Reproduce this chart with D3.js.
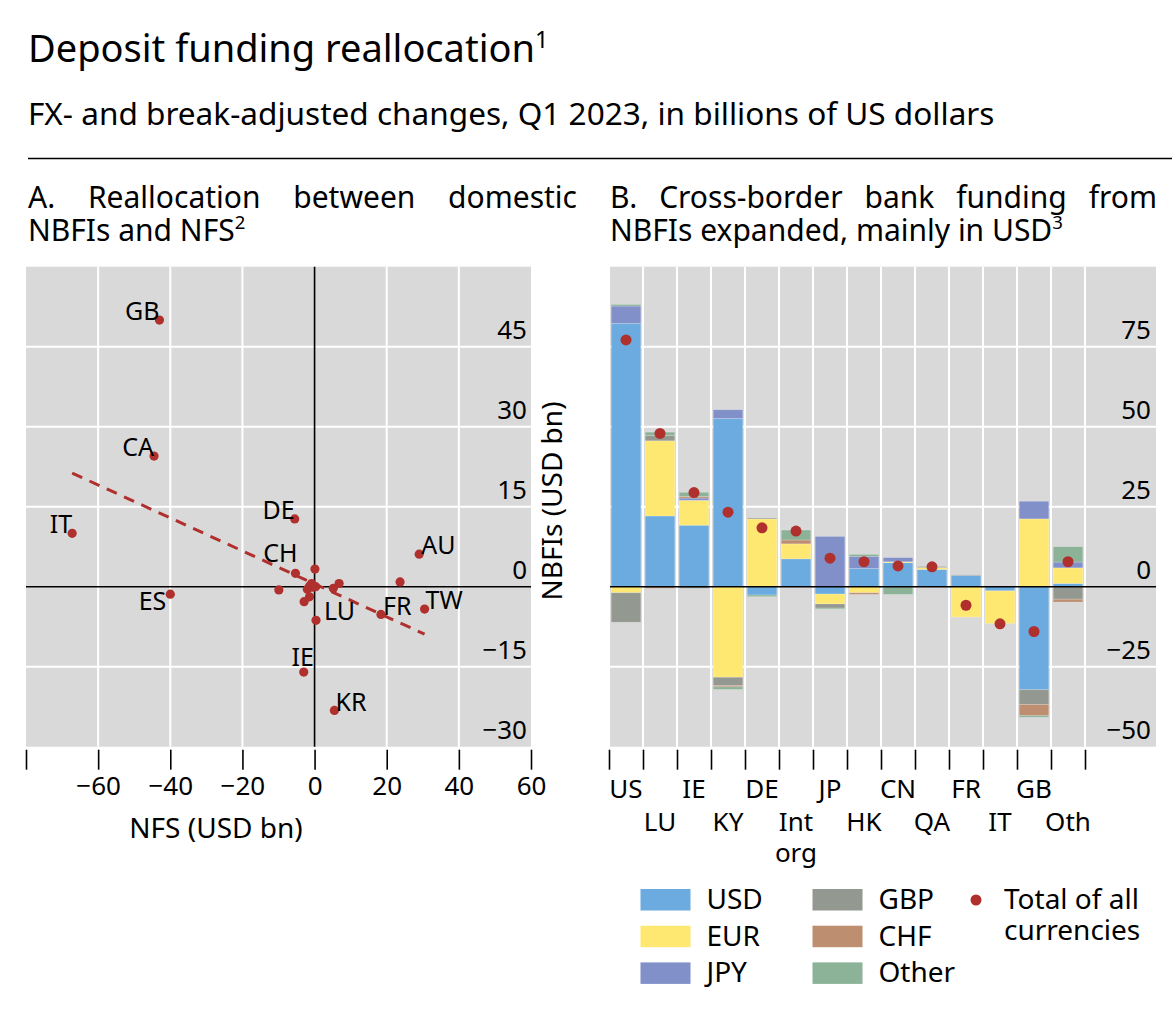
<!DOCTYPE html>
<html><head><meta charset="utf-8">
<script src="https://cdn.jsdelivr.net/npm/d3@7"></script>
<style>
body{margin:0;background:#fff;}
text{font-family:"Noto Sans", sans-serif; fill:#000;}
</style></head><body>
<svg id="chart" width="1174" height="1014"></svg>
<script>
// ---------- DATA ----------
// Panel A: scatter (NFS on x, NBFIs on y), USD bn
const scatterLabels = ["GB","CA","IT","DE","CH","ES","AU","FR","TW","LU","IE","KR"];
const scatterNFS    = [-43.0,-44.5,-67.2,-5.5,-5.3,-40.0,29.0,18.4,30.5,0.4,-3.0,5.5];
const scatterNBFI   = [50.0,24.5,10.0,12.7,2.5,-1.4,6.1,-5.2,-4.2,-6.3,-16.0,-23.2];
const unlabeledNFS  = [-9.9,0.1,-1.4,-0.5,0.3,-2.0,5.2,6.8,-1.4,-2.9,23.7,-0.8];
const unlabeledNBFI = [-0.6,3.3,0.1,-0.1,0.0,-0.5,-0.3,0.6,-1.9,-2.8,0.9,0.6];
const trendNFS  = [-67.2, 30.5];
const trendNBFI = [21.3, -8.9];
const xTicksA = [-80,-60,-40,-20,0,20,40,60];
const yTicksA = [-30,-15,0,15,30,45];

// Panel B: stacked bars by currency, USD bn
const barCategories = ["US","LU","IE","KY","DE","Int org","JP","HK","CN","QA","FR","IT","GB","Oth"];
const currencies = ["USD","EUR","JPY","GBP","CHF","Other"];
const usdValues   = [82.3,22.1,19.2,52.6,-2.6,8.7,-2.3,5.7,7.5,5.4,3.5,-1.3,-32.2,1.0];
const eurValues   = [-1.9,23.5,7.8,-28.3,21.2,4.7,-3.1,-1.9,0.3,0.6,-9.5,-10.2,21.2,4.9];
const jpyValues   = [5.4,0,0.7,2.7,0,0,15.7,3.8,1.3,0,0,0,5.5,1.8];
const gbpValues   = [-9.2,1.7,-0.5,-2.6,0.3,0,-1.3,0,0,0.3,0.2,0,-4.6,-3.9];
const chfValues   = [0,-0.5,0.5,-0.4,0,1.2,0,-0.5,0,0,0,0,-3.5,-0.9];
const otherValues = [0.5,1.0,1.3,-0.8,-0.5,3.1,-0.3,0.6,-2.4,0,0,0,-0.5,4.8];
const totalValues = [77.1,47.9,29.4,23.3,18.4,17.4,8.9,7.8,6.5,6.2,-5.8,-11.6,-14.0,7.8];
const yTicksB = [-50,-25,0,25,50,75];

// ---------- STYLE ----------
const colors = {USD:"#6cabe0",EUR:"#ffe872",JPY:"#8190c8",GBP:"#939891",CHF:"#bd8f70",Other:"#8cb297"};
const dotColor = "#b0302e";
const bg = "#d9d9d9";
const FS = 26;      // tick labels
const FL = 25;      // point labels
const FT = 28;      // axis titles / legend
const PT = 30;      // panel titles

const svg = d3.select("#chart");

function addText(x, y, str, fs, anchor){
  return svg.append("text").attr("x",x).attr("y",y).attr("font-size",fs)
    .attr("text-anchor",anchor||"start").text(str);
}
function fitTo(sel, w){
  const cur = sel.node().getComputedTextLength();
  const fs = parseFloat(sel.attr("font-size"));
  sel.attr("font-size", fs*w/cur);
  return fs*w/cur;
}
// ---------- TITLES ----------
const t1 = addText(28, 62, "Deposit funding reallocation", 36);
const tfs = fitTo(t1, 507);
t1.append("tspan").attr("dy",-14).attr("font-size",tfs*0.62).text("1");

const t2 = addText(28, 125, "FX- and break-adjusted changes, Q1 2023, in billions of US dollars", 26);
fitTo(t2, 967);

svg.append("line").attr("x1",28).attr("x2",1172).attr("y1",158.5).attr("y2",158.5)
  .attr("stroke","#000").attr("stroke-width",1.5);

function justified(words, x0, x1, y, fs){
  const g = svg.append("g");
  const nodes = words.map(w => g.append("text").attr("y",y).attr("font-size",fs).text(w));
  const widths = nodes.map(n => n.node().getComputedTextLength());
  const gap = (x1 - x0 - d3.sum(widths))/(words.length-1);
  let x = x0;
  nodes.forEach((n,i)=>{ n.attr("x",x); x += widths[i] + gap; });
}
justified(["A.","Reallocation","between","domestic"], 28, 577, 208, PT);
const pa2 = addText(28, 241, "NBFIs and NFS", PT);
pa2.append("tspan").attr("dy",-12).attr("font-size",PT*0.62).text("2");
justified(["B.","Cross-border","bank","funding","from"], 610, 1157, 208, PT);
const pb2 = addText(610, 241, "NBFIs expanded, mainly in USD", PT);
pb2.append("tspan").attr("dy",-12).attr("font-size",PT*0.62).text("3");

// ---------- PANEL A ----------
const plotTop = 266.7, plotBottom = 746.7;
const xA = d3.scaleLinear().domain([-80,60]).range([26,531]);
const yA = d3.scaleLinear().domain([-30,60]).range([plotBottom, plotTop]);
const gA = svg.append("g");
gA.append("rect").attr("x",xA(-80)).attr("y",plotTop).attr("width",xA(60)-xA(-80)).attr("height",plotBottom-plotTop).attr("fill",bg);
gA.selectAll(".vg").data(xTicksA.filter(d=>d!==0 && d>-80 && d<60)).join("line")
  .attr("x1",d=>xA(d)).attr("x2",d=>xA(d)).attr("y1",plotTop).attr("y2",plotBottom)
  .attr("stroke","#fff").attr("stroke-width",2);
gA.selectAll(".hg").data(yTicksA.filter(d=>d!==0 && d>-30)).join("line")
  .attr("x1",xA(-80)).attr("x2",xA(60)).attr("y1",d=>yA(d)).attr("y2",d=>yA(d))
  .attr("stroke","#fff").attr("stroke-width",2);
gA.append("line").attr("x1",xA(-80)).attr("x2",xA(60)).attr("y1",yA(0)).attr("y2",yA(0)).attr("stroke","#000").attr("stroke-width",1.6);
gA.append("line").attr("x1",xA(0)).attr("x2",xA(0)).attr("y1",plotTop).attr("y2",plotBottom).attr("stroke","#000").attr("stroke-width",1.6);
const axA = d3.axisBottom(xA).tickValues(xTicksA).tickSize(20).tickPadding(7)
  .tickFormat(d => d===-80 ? "" : String(d).replace("-","\u2212"));
const gax = gA.append("g").attr("transform",`translate(0,${plotBottom+3})`).call(axA);
gax.select(".domain").remove();
gax.selectAll(".tick line").attr("stroke","#000").attr("stroke-width",1.6);
gax.selectAll(".tick text").attr("font-size",FS).attr("font-family","Noto Sans").attr("fill","#000");
gA.selectAll(".yl").data(yTicksA).join("text")
  .attr("x",527).attr("y",d=>yA(d)-8).attr("text-anchor","end").attr("font-size",FS)
  .text(d => String(d).replace("-","\u2212"));
addText(216, 838, "NFS (USD bn)", FT, "middle");
svg.append("text").attr("transform","translate(562,501) rotate(-90)").attr("text-anchor","middle")
  .attr("font-size",FT).text("NBFIs (USD bn)");
gA.append("line").attr("x1",xA(trendNFS[0])).attr("y1",yA(trendNBFI[0]))
  .attr("x2",xA(trendNFS[1])).attr("y2",yA(trendNBFI[1]))
  .attr("stroke",dotColor).attr("stroke-width",3).attr("stroke-dasharray","11,8");
const unl = unlabeledNFS.map((x,i)=>({x, y:unlabeledNBFI[i]}));
gA.selectAll(".ud").data(unl).join("circle").attr("cx",d=>xA(d.x)).attr("cy",d=>yA(d.y)).attr("r",4.6).attr("fill",dotColor);
const lab = scatterLabels.map((n,i)=>({n, x:scatterNFS[i], y:scatterNBFI[i]}));
gA.selectAll(".ld").data(lab).join("circle").attr("cx",d=>xA(d.x)).attr("cy",d=>yA(d.y)).attr("r",4.6).attr("fill",dotColor);
const place = {GB:["end",0,0],CA:["end",0,0],IT:["end",0,0],DE:["end",0,0],CH:["end",2,-11],
  ES:["end",-4,16],AU:["start",2,0],FR:["start",2,1],TW:["start",1,0],LU:["start",8,0],
  IE:["middle",-1,-6],KR:["start",1,1]};
gA.selectAll(".lt").data(lab).join("text")
  .attr("x",d=>xA(d.x)+place[d.n][1]).attr("y",d=>yA(d.y)+place[d.n][2])
  .attr("text-anchor",d=>place[d.n][0]).attr("font-size",FL).text(d=>d.n);

// ---------- PANEL B ----------
const nSlots = 16;
const xB = d3.scaleLinear().domain([0,nSlots]).range([609,1153]);
const step = xB(1)-xB(0);
const yB = d3.scaleLinear().domain([-50,100]).range([plotBottom, plotTop]);
const gB = svg.append("g");
gB.append("rect").attr("x",610).attr("y",plotTop).attr("width",1156-610).attr("height",plotBottom-plotTop).attr("fill",bg);
gB.selectAll(".vg").data(d3.range(1, barCategories.length+1)).join("line")
  .attr("x1",d=>xB(d)).attr("x2",d=>xB(d)).attr("y1",plotTop).attr("y2",plotBottom)
  .attr("stroke","#fff").attr("stroke-width",2);
gB.selectAll(".hg").data(yTicksB.filter(d=>d!==0 && d>-50)).join("line")
  .attr("x1",610).attr("x2",1156).attr("y1",d=>yB(d)).attr("y2",d=>yB(d))
  .attr("stroke","#fff").attr("stroke-width",2);

const seriesVals = {USD:usdValues,EUR:eurValues,JPY:jpyValues,GBP:gbpValues,CHF:chfValues,Other:otherValues};
const rows = barCategories.map((c,i)=>{ const r={cat:c,i}; currencies.forEach(k=>r[k]=seriesVals[k][i]); return r; });
const stack = d3.stack().keys(currencies).offset(d3.stackOffsetDiverging)(rows);
const pad = 2.2;
gB.selectAll(".ser").data(stack).join("g").attr("fill",d=>colors[d.key])
  .selectAll("rect").data(d=>d).join("rect")
  .attr("x",d=>xB(d.data.i)+pad).attr("width",step-2*pad)
  .attr("y",d=>yB(Math.max(d[0],d[1]))).attr("height",d=>Math.abs(yB(d[0])-yB(d[1])))
  .attr("stroke","rgba(255,255,255,0.25)").attr("stroke-width",0.8);
gB.append("line").attr("x1",610).attr("x2",1156).attr("y1",yB(0)).attr("y2",yB(0)).attr("stroke","#000").attr("stroke-width",1.6);
gB.selectAll(".tot").data(totalValues).join("circle")
  .attr("cx",(d,i)=>xB(i)+step/2).attr("cy",d=>yB(d)).attr("r",5.5).attr("fill",dotColor);
const axB = d3.axisBottom(xB).tickValues(d3.range(0, barCategories.length+1)).tickSize(20).tickFormat("");
const gbx = gB.append("g").attr("transform",`translate(0,${plotBottom+3})`).call(axB);
gbx.select(".domain").remove();
gbx.selectAll(".tick line").attr("stroke","#000").attr("stroke-width",1.6);
barCategories.forEach((c,i)=>{
  const parts = c.split(" ");
  const y0 = i%2===0 ? 798 : 831;
  parts.forEach((p,k)=>{
    addText(xB(i)+step/2, y0 + k*31, p, FS, "middle");
  });
});
gB.selectAll(".yl").data(yTicksB).join("text")
  .attr("x",1151).attr("y",d=>yB(d)-8).attr("text-anchor","end").attr("font-size",FS)
  .text(d => String(d).replace("-","\u2212"));

// ---------- LEGEND ----------
const legendCols = [640.5, 812.5];
currencies.forEach((k,i)=>{
  const cx = legendCols[Math.floor(i/3)], ry = 889 + (i%3)*36.7;
  svg.append("rect").attr("x",cx).attr("y",ry).attr("width",50).attr("height",21.5).attr("fill",colors[k]);
  addText(cx+66, ry+20, k, FT);
});
svg.append("circle").attr("cx",976).attr("cy",900).attr("r",5.5).attr("fill",dotColor);
addText(1004, 909, "Total of all", FT);
addText(1004, 940, "currencies", FT);
</script>
</body></html>
